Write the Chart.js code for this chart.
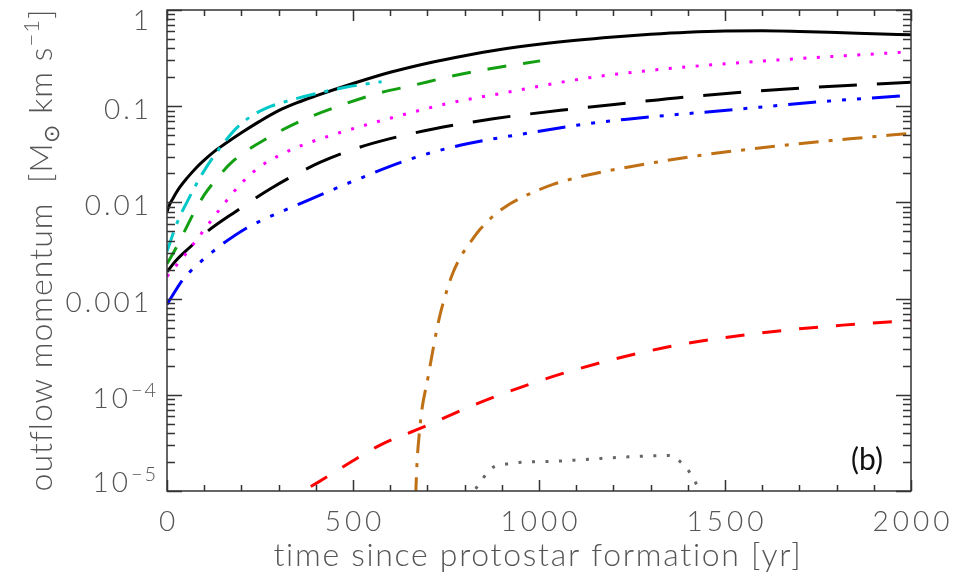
<!DOCTYPE html>
<html>
<head>
<meta charset="utf-8">
<script src="https://cdn.jsdelivr.net/npm/chart.js@4.4.0/dist/chart.umd.min.js"></script>
<style>
  html, body { margin: 0; padding: 0; background: #fff; }
  #wrap { width: 967px; height: 583px; position: relative; }
</style>
</head>
<body>
<div id="wrap"><canvas id="momChart"></canvas></div>
<script>
// time since protostar formation [yr] / outflow momentum [Msun km/s], one pair per curve
const tSolid = [0, 6, 16, 34, 56, 80, 100, 130, 165, 200, 250, 300, 350, 400, 500, 600, 700, 800, 900, 1000, 1100, 1200, 1300, 1400, 1500, 1600, 1700, 1800, 1900, 2000];
const pSolid = [0.008, 0.0093, 0.011, 0.0143, 0.0183, 0.0232, 0.0275, 0.0345, 0.043, 0.053, 0.070, 0.090, 0.109, 0.128, 0.172, 0.225, 0.28, 0.335, 0.39, 0.44, 0.485, 0.525, 0.56, 0.588, 0.605, 0.608, 0.598, 0.583, 0.567, 0.552];

const tCyan = [0, 8, 16, 32, 56, 79, 97, 147, 196, 241, 280, 313, 393, 483, 577];
const pCyan = [0.0031, 0.0038, 0.0047, 0.0068, 0.0105, 0.0155, 0.0205, 0.039, 0.064, 0.085, 0.100, 0.110, 0.133, 0.158, 0.18];

const tGreen = [0, 25, 47, 70, 101, 128, 178, 272, 366, 461, 564, 662, 770, 868, 1003];
const pGreen = [0.0023, 0.0034, 0.005, 0.0075, 0.0121, 0.0166, 0.027, 0.047, 0.072, 0.10, 0.135, 0.165, 0.207, 0.245, 0.296];

const tMagenta = [0, 50, 100, 150, 200, 250, 300, 350, 443, 583, 761, 904, 1124, 1343, 1603, 1823, 2000];
const pMagenta = [0.0017, 0.0029, 0.0052, 0.0093, 0.0158, 0.0235, 0.0305, 0.0375, 0.050, 0.072, 0.108, 0.137, 0.195, 0.245, 0.295, 0.335, 0.368];

const tDashed = [0, 25, 61, 106, 186, 277, 411, 514, 600, 716, 877, 1083, 1240, 1397, 1657, 2000];
const pDashed = [0.0019, 0.0025, 0.0034, 0.0049, 0.0081, 0.0138, 0.026, 0.037, 0.046, 0.058, 0.074, 0.093, 0.108, 0.125, 0.15, 0.177];

const tBlue = [0, 43, 65, 91, 124, 151, 212, 250, 366, 500, 653, 788, 968, 1102, 1237, 1505, 1774, 2000];
const pBlue = [0.00087, 0.00158, 0.00196, 0.00243, 0.0031, 0.00374, 0.00536, 0.00638, 0.0100, 0.0166, 0.0281, 0.0392, 0.0524, 0.0634, 0.0733, 0.0909, 0.1127, 0.130];

const tOrange = [666, 669, 680, 702, 731, 753, 769, 793, 815, 841, 876, 909, 949, 989, 1038, 1110, 1191, 1298, 1414, 1540, 1683, 1836, 2000];
const pOrange = [3e-6, 1e-5, 4.64e-5, 1.54e-4, 6.04e-4, 0.00124, 0.00187, 0.00287, 0.00383, 0.00523, 0.00715, 0.00898, 0.0110, 0.0130, 0.0154, 0.01845, 0.0215, 0.0255, 0.0301, 0.0348, 0.0402, 0.0458, 0.0523];

const tRed = [300, 365, 410, 573, 682, 861, 1080, 1339, 1598, 1817, 2000];
const pRed = [7.2e-6, 1e-5, 1.26e-5, 3.0e-5, 4.5e-5, 8.9e-5, 1.74e-4, 3.1e-4, 4.4e-4, 5.3e-4, 5.9e-4];

const tGrey = [810, 826, 849, 873, 909, 1056, 1236, 1350, 1381, 1404, 1422, 1440];
const pGrey = [8e-6, 1e-5, 1.35e-5, 1.73e-5, 1.9e-5, 2.05e-5, 2.26e-5, 2.34e-5, 2.0e-5, 1.58e-5, 1.2e-5, 8e-6];

// axis labels
const xTickValues = [0, 500, 1000, 1500, 2000];
const yTickValues = [1, 0.1, 0.01, 0.001, 1e-4, 1e-5];
const yTickLabels = [['1'], ['0.1'], ['0.01'], ['0.001'], ['10', '\u2212' + '4'], ['10', '\u2212' + '5']];

const FONT = 'Lato, "Open Sans", "DejaVu Sans", sans-serif';
const TEXT = '#555';

function pts(t, p) {
  return t.map((x, i) => ({ x: x, y: p[i] }));
}

function curve(t, p, color, dash) {
  return {
    data: pts(t, p),
    borderColor: color,
    borderWidth: 3,
    borderDash: dash,
    pointRadius: 0,
    fill: false,
    clip: 0,
    cubicInterpolationMode: 'monotone'
  };
}

// text with letter spacing, anchored left / right / centre at x
function spaced(ctx, s, x, y, align, gap) {
  ctx.letterSpacing = gap + 'px';
  const w = ctx.measureText(s).width - gap;
  const x0 = align === 'right' ? x - w : align === 'center' ? x - w / 2 : x;
  ctx.textAlign = 'left';
  ctx.fillText(s, x0, y);
  ctx.letterSpacing = '0px';
  return w;
}

// a row of [text, 'n'|'sub'|'sup'] pieces centred on (0,0)
function richText(ctx, parts, size, gap) {
  const fontOf = k => '300 ' + (k === 'n' ? size : Math.round(size * 0.68)) + 'px ' + FONT;
  ctx.letterSpacing = gap + 'px';
  let w = 0;
  parts.forEach(([s, k]) => { ctx.font = fontOf(k); w += ctx.measureText(s).width; });
  let x = -w / 2;
  ctx.textAlign = 'left';
  parts.forEach(([s, k]) => {
    ctx.font = fontOf(k);
    const dy = k === 'sub' ? size * 0.22 : k === 'sup' ? -size * 0.4 : 0;
    ctx.fillText(s, x, dy);
    x += ctx.measureText(s).width;
  });
  ctx.letterSpacing = '0px';
}

const frame = {
  id: 'frame',
  afterDatasetsDraw(chart) {
    const { ctx, chartArea: a, scales: { x, y } } = chart;
    ctx.save();
    ctx.strokeStyle = '#333';
    ctx.lineWidth = 1.5;
    ctx.strokeRect(a.left, a.top, a.right - a.left, a.bottom - a.top);

    // inward ticks: x every 100 yr, y at 1..9 per decade
    ctx.beginPath();
    for (let v = x.min; v <= x.max; v += 100) {
      const px = Math.round(x.getPixelForValue(v)) + 0.5;
      const len = v % 500 === 0 ? 11 : 6;
      ctx.moveTo(px, a.bottom); ctx.lineTo(px, a.bottom - len);
      ctx.moveTo(px, a.top); ctx.lineTo(px, a.top + len);
    }
    const e0 = Math.floor(Math.log10(y.min)), e1 = Math.ceil(Math.log10(y.max));
    for (let e = e0; e <= e1; e++) {
      for (let m = 1; m <= 9; m++) {
        const v = m * Math.pow(10, e);
        if (v < y.min * 0.999 || v > y.max * 1.001) continue;
        const py = Math.round(y.getPixelForValue(v)) + 0.5;
        const len = m === 1 ? 15 : 8;
        ctx.moveTo(a.left, py); ctx.lineTo(a.left + len, py);
        ctx.moveTo(a.right, py); ctx.lineTo(a.right - len, py);
      }
    }
    ctx.stroke();

    ctx.fillStyle = TEXT;
    ctx.textBaseline = 'alphabetic';

    // x tick labels
    ctx.font = '300 28px ' + FONT;
    xTickValues.forEach(v => spaced(ctx, String(v), x.getPixelForValue(v), 531, 'center', 4));

    // y tick labels
    yTickValues.forEach((v, i) => {
      const lab = yTickLabels[i];
      let cy = y.getPixelForValue(v) + 3;
      cy = Math.min(Math.max(cy, a.top + 10), a.bottom - 9);
      const base = cy + 10;
      ctx.font = '300 28px ' + FONT;
      if (lab.length === 1) {
        spaced(ctx, lab[0], 149, base, 'right', 3);
      } else {
        spaced(ctx, lab[0], 128, base, 'right', 3);
        ctx.font = '300 20px ' + FONT;
        spaced(ctx, lab[1], 131, base - 11, 'left', 2);
      }
    });

    // axis titles
    ctx.save();
    ctx.translate(538, 566);
    richText(ctx, [['time since protostar formation [yr]', 'n']], 32, 1.7);
    ctx.restore();

    ctx.save();
    ctx.translate(52, 250);
    ctx.rotate(-Math.PI / 2);
    richText(ctx, [['outflow momentum  [M', 'n'], ['\u2299', 'sub'], [' km s', 'n'], ['\u2212' + '1', 'sup'], [']', 'n']], 32, 1);
    ctx.restore();

    // panel tag
    ctx.fillStyle = '#111';
    ctx.font = '400 30px ' + FONT;
    ctx.textAlign = 'center';
    ctx.fillText('(b)', 867, 470);
    ctx.restore();
  }
};

new Chart(document.getElementById('momChart'), {
  type: 'line',
  data: {
    datasets: [
      curve(tCyan, pCyan, '#00c8c8', [20, 9, 4, 9]),
      curve(tSolid, pSolid, '#000000', []),
      curve(tGreen, pGreen, '#12a012', [19, 17]),
      curve(tMagenta, pMagenta, '#ff00ff', [3, 10.5]),
      curve(tDashed, pDashed, '#000000', [38, 20]),
      curve(tBlue, pBlue, '#0000ff', [28, 11, 4, 11, 4, 11, 4, 11]),
      curve(tOrange, pOrange, '#bf6f14', [20, 10, 4, 10]),
      curve(tRed, pRed, '#ff0000', [19, 18]),
      curve(tGrey, pGrey, '#666666', [3, 10.5])
    ]
  },
  options: {
    responsive: true,
    maintainAspectRatio: false,
    animation: false,
    layout: { padding: { left: 167, right: 56, top: 10, bottom: 92 } },
    plugins: { legend: { display: false }, tooltip: { enabled: false } },
    scales: {
      x: { type: 'linear', min: 0, max: 2000, display: false },
      y: { type: 'logarithmic', min: 1e-5, max: 1, display: false }
    }
  },
  plugins: [frame]
});
</script>
</body>
</html>
